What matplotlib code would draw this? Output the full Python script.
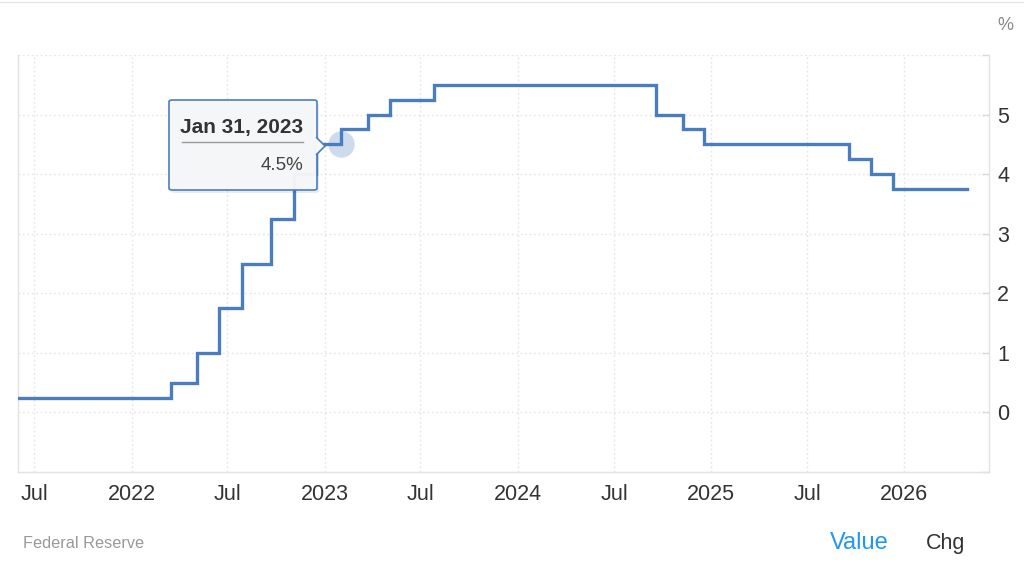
import matplotlib.pyplot as plt
import matplotlib.dates as mdates
from matplotlib.patches import FancyBboxPatch, Polygon
from matplotlib.lines import Line2D
import pandas as pd

plt.rcParams['font.family'] = ['Liberation Sans', 'DejaVu Sans']

# fed funds rate (upper bound), value from each change date on
change_dates = ["2021-05-01", "2022-03-17", "2022-05-05", "2022-06-16", "2022-07-28",
                "2022-09-22", "2022-11-03", "2022-12-15", "2023-02-01", "2023-03-23",
                "2023-05-04", "2023-07-27", "2024-09-19", "2024-11-08", "2024-12-19",
                "2025-09-18", "2025-10-30", "2025-12-11", "2026-04-30"]
rate = [0.25, 0.5, 1.0, 1.75, 2.5,
        3.25, 4.0, 4.5, 4.75, 5.0,
        5.25, 5.5, 5.0, 4.75, 4.5,
        4.25, 4.0, 3.75, 3.75]
tip_date = "2023-01-31"
tip_value = 4.5
tip_title = "Jan 31, 2023"
tip_label = "4.5%"
yticks = [0, 1, 2, 3, 4, 5]
source = "Federal Reserve"

W, H = 1024, 572
line_color = '#4a7dc0'
grid_color = '#e4e4e4'

def fx(x):
    return x / W

def fy(y):
    return 1 - y / H

fig = plt.figure(figsize=(W / 100, H / 100), dpi=100)
ax = fig.add_axes([fx(18), fy(472), fx(989 - 18), (472 - 55) / H])

dates = pd.to_datetime(change_dates)
ax.step(dates, rate, where='post', color=line_color, lw=2.4, zorder=3,
        solid_joinstyle='miter')

ax.set_xlim(pd.Timestamp("2021-05-31"), pd.Timestamp("2026-06-10"))
ax.set_ylim(-1, 6)

ax.xaxis.set_major_locator(mdates.MonthLocator(bymonth=[1, 7]))
ax.xaxis.set_major_formatter(plt.FuncFormatter(
    lambda v, p: mdates.num2date(v).strftime('%Y') if mdates.num2date(v).month == 1 else 'Jul'))
ax.set_yticks([-1] + yticks + [6])
ax.set_yticklabels([''] + [str(t) for t in yticks] + [''])

ax.yaxis.tick_right()
ax.tick_params(axis='y', direction='in', length=5, width=1, color='#d8d8d8',
               labelsize=15.5, labelcolor='#333333', pad=6)
ax.tick_params(axis='x', length=0, labelsize=15.5, labelcolor='#333333', pad=9)

ax.grid(True, color=grid_color, ls=(0, (1.2, 2)), lw=1)
ax.spines['top'].set_visible(False)
for s in ['left', 'right', 'bottom']:
    ax.spines[s].set_color('#e2e2e2')
    ax.spines[s].set_linewidth(1)

# highlighted point
ax.plot([pd.Timestamp(tip_date)], [tip_value], 'o', ms=19, color='#c9d7ec',
        mec='none', alpha=0.9, zorder=2)

# tooltip
shadow = FancyBboxPatch((fx(171), fy(193)), fx(148), 90 / H,
                        boxstyle='round,pad=0,rounding_size=0.003',
                        transform=fig.transFigure, fc='#000000', ec='none', alpha=0.08, zorder=4)
fig.patches.append(shadow)
box = FancyBboxPatch((fx(169), fy(190)), fx(148), 90 / H,
                     boxstyle='round,pad=0,rounding_size=0.003',
                     transform=fig.transFigure, fc=(0.965, 0.969, 0.976, 0.96), ec=line_color,
                     lw=1.2, zorder=5)
fig.patches.append(box)
arrow = Polygon([(fx(316), fy(137)), (fx(325), fy(146)), (fx(316), fy(155))],
                closed=False, transform=fig.transFigure, fc='#f6f7f9', ec=line_color,
                lw=1.2, zorder=6)
fig.patches.append(arrow)
fig.add_artist(Line2D([fx(182), fx(303)], [fy(142), fy(142)], color='#9a9a9a', lw=1,
                      transform=fig.transFigure, zorder=7))
fig.text(fx(242), fy(127), tip_title, ha='center', va='center', fontsize=15,
         fontweight='bold', color='#333333', zorder=7)
fig.text(fx(303), fy(165), tip_label, ha='right', va='center', fontsize=13.5,
         color='#444444', zorder=7)

fig.text(fx(1005), fy(25), '%', ha='center', va='center', fontsize=13, color='#888888')
fig.text(fx(23), fy(543), source, ha='left', va='center', fontsize=11.7, color='#999999')
fig.text(fx(830), fy(543), 'Value', ha='left', va='center', fontsize=17, color='#2196f3')
fig.text(fx(926), fy(543), 'Chg', ha='left', va='center', fontsize=15.5, color='#333333')
fig.add_artist(Line2D([0, 1], [fy(2), fy(2)], color='#e6e6e6', lw=1, transform=fig.transFigure))

fig.savefig('out.png', dpi=100, facecolor='white')
